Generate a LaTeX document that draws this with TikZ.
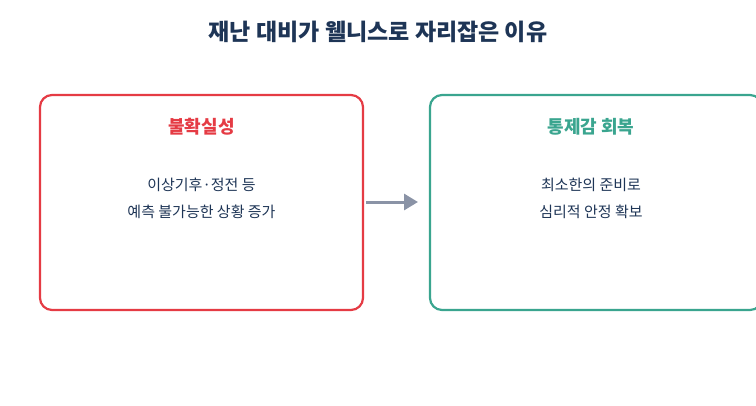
\documentclass[tikz,border=0pt]{standalone}
\usepackage{fontspec}
\setmainfont{Noto Sans CJK KR}
\usetikzlibrary{arrows.meta}
\definecolor{navy}{HTML}{1E3556}
\definecolor{redc}{HTML}{E53B44}
\definecolor{teal}{HTML}{3AA58F}
\definecolor{grayc}{HTML}{8A93A6}
\begin{document}
\begin{tikzpicture}[x=1pt,y=-1pt,
  box/.style={rounded corners=12pt,line width=2.2pt,fill=white},
  ttl/.style={font=\bfseries\fontsize{18}{20}\selectfont},
  body/.style={font=\fontsize{15}{27}\selectfont,text=navy,align=center}]
\useasboundingbox (0,0) rectangle (756,405);
\clip (0,0) rectangle (756,405);
\node[font=\bfseries\fontsize{23}{26}\selectfont,text=navy] (title) at (378,32) {재난 대비가 웰니스로 자리잡은 이유};
\draw[box,draw=redc] (40,95) rectangle (363,310);
\coordinate (lr) at (363,202);
\node[ttl,text=redc] (lt) at (201.5,127) {불확실성};
\node[body] (lb) at (201.5,198.5) {이상기후·정전 등\\예측 불가능한 상황 증가};
\draw[box,draw=teal] (430,95) rectangle (762,310);
\coordinate (rl) at (430,202);
\node[ttl,text=teal] (rt) at (591,127) {통제감 회복};
\node[body] (rb) at (591,198.5) {최소한의 준비로\\심리적 안정 확보};
\draw[grayc,line width=3pt,-{Triangle[length=14pt,width=16pt]}] ([xshift=3pt]lr) -- ([xshift=-12pt]rl);
\end{tikzpicture}
\end{document}
